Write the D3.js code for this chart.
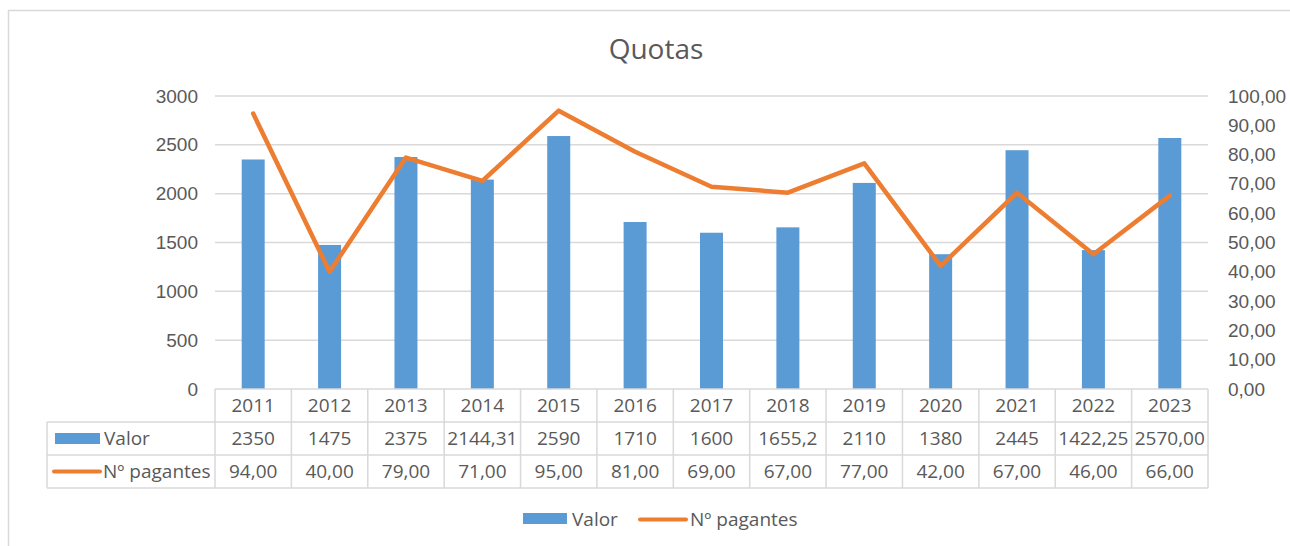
<!DOCTYPE html>
<html>
<head>
  <meta charset="utf-8">
  <style type="text/css">
    body { margin: 0; background: #fff; }
    svg { font-family: "Open Sans", sans-serif; }
    .lbl { fill: #595959; font-size: 19px; }
  </style>
  <script src="https://d3js.org/d3.v7.min.js"></script>
</head>
<body>
<script type="text/javascript">
  "use strict";

  // chart data
  var years = ["2011", "2012", "2013", "2014", "2015", "2016", "2017", "2018", "2019", "2020", "2021", "2022", "2023"];
  var valor = [2350, 1475, 2375, 2144.31, 2590, 1710, 1600, 1655.2, 2110, 1380, 2445, 1422.25, 2570];
  var valorText = ["2350", "1475", "2375", "2144,31", "2590", "1710", "1600", "1655,2", "2110", "1380", "2445", "1422,25", "2570,00"];
  var pagantes = [94, 40, 79, 71, 95, 81, 69, 67, 77, 42, 67, 46, 66];
  var leftTicks = [0, 500, 1000, 1500, 2000, 2500, 3000];
  var rightTicks = [0, 10, 20, 30, 40, 50, 60, 70, 80, 90, 100];

  var W = 1290, H = 546;
  var plot = {left: 215, right: 1208, top: 96, bottom: 389};
  var rowH = 33;
  var tableLeft = 47;
  var blue = "#5B9BD5", orange = "#ED7D31", grid = "#D9D9D9";

  var svg = d3.select("body").append("svg")
    .attr("width", W)
    .attr("height", H);

  // outer chart border
  svg.append("rect")
    .attr("x", 8.5).attr("y", 10.5)
    .attr("width", W + 20).attr("height", H + 20)
    .attr("fill", "none")
    .attr("stroke", grid)
    .attr("stroke-width", 1.5);

  var x = d3.scaleBand().domain(years).range([plot.left, plot.right]);
  var yL = d3.scaleLinear().domain([0, 3000]).range([plot.bottom, plot.top]);
  var yR = d3.scaleLinear().domain([0, 100]).range([plot.bottom, plot.top]);

  svg.append("text")
    .attr("x", 656).attr("y", 59)
    .attr("text-anchor", "middle")
    .attr("fill", "#595959")
    .style("font-size", "28px")
    .text("Quotas");

  // gridlines
  svg.append("g").selectAll("line")
    .data(leftTicks.slice(1))
    .join("line")
      .attr("x1", plot.left).attr("x2", plot.right)
      .attr("y1", function(d) { return yL(d); })
      .attr("y2", function(d) { return yL(d); })
      .attr("stroke", grid)
      .attr("stroke-width", 1.5);

  // left axis
  var axL = svg.append("g")
    .attr("transform", "translate(" + (plot.left - 6) + ",0)")
    .call(d3.axisLeft(yL).tickValues(leftTicks).tickSize(0).tickPadding(11).tickFormat(d3.format("d")));
  axL.select(".domain").remove();
  axL.selectAll("text").attr("class", "lbl").attr("font-family", null).attr("font-size", null);

  // right axis
  var axR = svg.append("g")
    .attr("transform", "translate(" + (plot.right + 20) + ",0)")
    .call(d3.axisRight(yR).tickValues(rightTicks).tickSize(0).tickPadding(0)
      .tickFormat(function(d) { return d.toFixed(2).replace(".", ","); }));
  axR.select(".domain").remove();
  axR.selectAll("text").attr("class", "lbl").attr("font-family", null).attr("font-size", null);

  // bars
  var bw = 23;
  svg.append("g").selectAll("rect")
    .data(valor)
    .join("rect")
      .attr("x", function(d, i) { return x(years[i]) + x.bandwidth() / 2 - bw / 2; })
      .attr("y", function(d) { return yL(d); })
      .attr("width", bw)
      .attr("height", function(d) { return yL(0) - yL(d); })
      .attr("fill", blue);

  // line
  var line = d3.line()
    .x(function(d, i) { return x(years[i]) + x.bandwidth() / 2; })
    .y(function(d) { return yR(d); });
  svg.append("path")
    .datum(pagantes)
    .attr("d", line)
    .attr("fill", "none")
    .attr("stroke", orange)
    .attr("stroke-width", 4.5)
    .attr("stroke-linejoin", "round")
    .attr("stroke-linecap", "round");

  // data table
  var tb = svg.append("g");
  var t0 = plot.bottom;
  // horizontal lines
  tb.append("line").attr("x1", plot.left).attr("x2", plot.right).attr("y1", t0).attr("y2", t0);
  [1, 2, 3].forEach(function(r) {
    tb.append("line").attr("x1", tableLeft).attr("x2", plot.right)
      .attr("y1", t0 + r * rowH).attr("y2", t0 + r * rowH);
  });
  // vertical lines
  tb.append("line").attr("x1", tableLeft).attr("x2", tableLeft).attr("y1", t0 + rowH).attr("y2", t0 + 3 * rowH);
  years.forEach(function(yr) {
    tb.append("line").attr("x1", x(yr)).attr("x2", x(yr)).attr("y1", t0).attr("y2", t0 + 3 * rowH);
  });
  tb.append("line").attr("x1", plot.right).attr("x2", plot.right).attr("y1", t0).attr("y2", t0 + 3 * rowH);
  tb.selectAll("line").attr("stroke", grid).attr("stroke-width", 1.5);

  var rows = [
    years,
    valorText,
    pagantes.map(function(d) { return d.toFixed(2).replace(".", ","); })
  ];
  rows.forEach(function(vals, r) {
    tb.append("g").selectAll("text")
      .data(vals)
      .join("text")
        .attr("class", "lbl")
        .attr("x", function(d, i) { return x(years[i]) + x.bandwidth() / 2; })
        .attr("y", t0 + r * rowH + rowH / 2)
        .attr("dy", "0.35em")
        .attr("text-anchor", "middle")
        .text(function(d) { return d; });
  });

  // series keys in table
  tb.append("rect").attr("x", 55).attr("y", t0 + rowH + 11).attr("width", 45).attr("height", 11).attr("fill", blue);
  tb.append("text").attr("class", "lbl").attr("x", 104).attr("y", t0 + rowH * 1.5).attr("dy", "0.35em").text("Valor");
  tb.append("line").attr("x1", 54).attr("x2", 100).attr("y1", t0 + rowH * 2.5).attr("y2", t0 + rowH * 2.5)
    .attr("stroke", orange).attr("stroke-width", 4).attr("stroke-linecap", "round");
  tb.append("text").attr("class", "lbl").attr("x", 103).attr("y", t0 + rowH * 2.5).attr("dy", "0.35em").text("Nº pagantes");

  // legend
  var lg = svg.append("g");
  lg.append("rect").attr("x", 523).attr("y", 513).attr("width", 44).attr("height", 11).attr("fill", blue);
  lg.append("text").attr("class", "lbl").attr("x", 572).attr("y", 519).attr("dy", "0.35em").text("Valor");
  lg.append("line").attr("x1", 640).attr("x2", 686).attr("y1", 519.5).attr("y2", 519.5)
    .attr("stroke", orange).attr("stroke-width", 4).attr("stroke-linecap", "round");
  lg.append("text").attr("class", "lbl").attr("x", 690).attr("y", 519).attr("dy", "0.35em").text("Nº pagantes");
</script>
</body>
</html>
